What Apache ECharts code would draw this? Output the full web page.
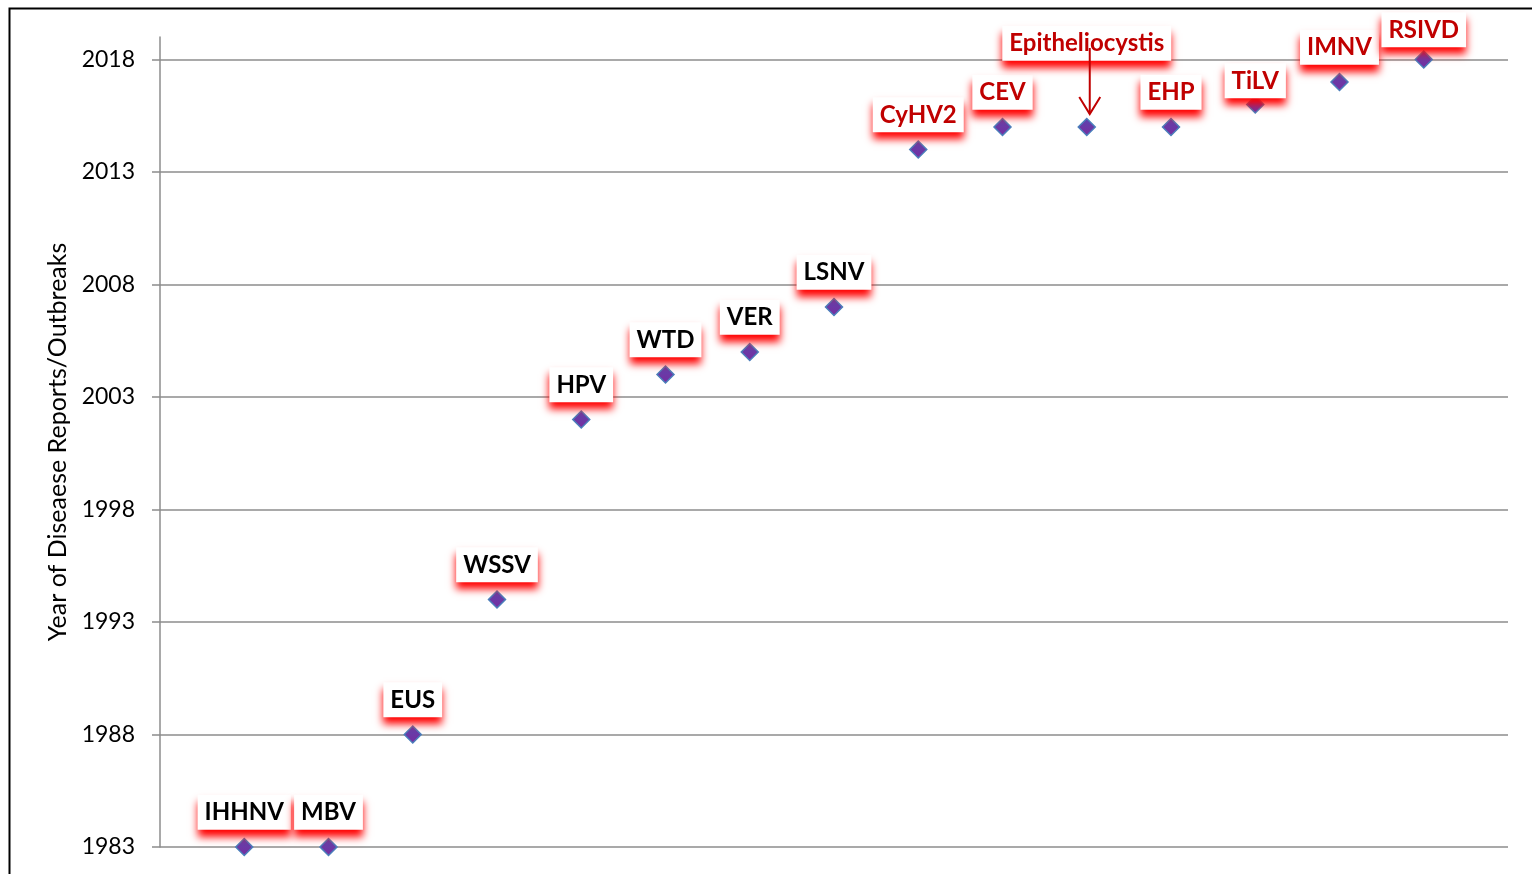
<!DOCTYPE html>
<html>
<head>
<meta charset="utf-8">
<title>Year of Disease Reports/Outbreaks</title>
<script src="https://cdn.jsdelivr.net/npm/echarts@6/dist/echarts.min.js"></script>
<style>
  html, body { margin: 0; padding: 0; background: #fff; }
  #chart { width: 1532px; height: 874px; }
</style>
</head>
<body>
<div id="chart"></div>
<script>
// Pathogens in order of first report, with the year of report/outbreak
const diseases = ['IHHNV', 'MBV', 'EUS', 'WSSV', 'HPV', 'WTD', 'VER', 'LSNV',
  'CyHV2', 'CEV', 'Epitheliocystis', 'EHP', 'TiLV', 'IMNV', 'RSIVD'];
const reportYears = [1983, 1983, 1988, 1994, 2002, 2004, 2005, 2007,
  2014, 2015, 2015, 2015, 2016, 2017, 2018];
const yearTicks = [1983, 1988, 1993, 1998, 2003, 2008, 2013, 2018];

// Reports from this year on are highlighted in red
const RECENT_FROM = 2014;
// Label pointed at with an arrow (it sits well above its point)
const ARROWED = 'Epitheliocystis';
// Vertical nudges (px) for labels that are moved off their default spot
const labelNudge = { Epitheliocystis: -49, TiLV: 11, RSIVD: 5 };

const FONT = 'Lato, "Open Sans", sans-serif';
const DARK_RED = '#C00000';
const GRID_GREY = '#8c8c8c';

const points = diseases.map((name, i) => {
  const recent = reportYears[i] >= RECENT_FROM;
  const item = {
    name: name,
    value: [i + 1, reportYears[i]],
    label: { color: recent ? DARK_RED : '#000' }
  };
  if (labelNudge[name]) item.label.offset = [0, labelNudge[name]];
  return item;
});

const arrowData = diseases
  .map((name, i) => [i + 1, reportYears[i], name])
  .filter(d => d[2] === ARROWED);

const chart = echarts.init(document.getElementById('chart'), null, { renderer: 'canvas' });

chart.setOption({
  backgroundColor: '#fff',
  animation: false,
  grid: { left: 160, right: 24, top: 37, bottom: 27, containLabel: false },
  xAxis: { type: 'value', min: 0, max: diseases.length + 1, show: false },
  yAxis: {
    type: 'value',
    min: yearTicks[0],
    max: yearTicks[yearTicks.length - 1] + 1,
    interval: 5,
    name: 'Year of Diseaese Reports/Outbreaks',
    nameLocation: 'middle',
    nameRotate: 90,
    nameGap: 84,
    nameTextStyle: { fontFamily: FONT, fontSize: 25, color: '#000' },
    axisLine: { show: true, lineStyle: { color: GRID_GREY, width: 1.5 } },
    axisTick: { show: true, length: 8, customValues: yearTicks,
      lineStyle: { color: GRID_GREY, width: 1.5 } },
    axisLabel: { customValues: yearTicks, margin: 25,
      formatter: v => String(v),
      fontFamily: FONT, fontSize: 23, color: '#000' },
    splitLine: { show: true, lineStyle: { color: GRID_GREY, width: 1.5 } }
  },
  series: [
    {
      type: 'scatter',
      symbol: 'diamond',
      symbolSize: 17,
      z: 3,
      itemStyle: {
        opacity: 1,
        color: new echarts.graphic.LinearGradient(0, 0, 0, 1, [
          { offset: 0, color: '#5a45b0' },
          { offset: 1, color: '#7a2c9e' }
        ]),
        borderColor: '#4a7ebb',
        borderWidth: 1.5
      },
      label: {
        show: true,
        opacity: 1,
        position: 'top',
        distance: 8,
        formatter: '{b}',
        fontFamily: FONT,
        fontWeight: 'bold',
        fontSize: 24,
        lineHeight: 26,
        backgroundColor: '#fff',
        padding: [5, 7, 4, 7],
        shadowColor: '#ff0000',
        shadowBlur: 8,
        shadowOffsetY: 7
      },
      emphasis: { disabled: true },
      data: points
    },
    {
      // Arrow from the raised label down to its point
      type: 'custom',
      z: 10,
      silent: true,
      data: arrowData,
      renderItem: function (params, api) {
        const p = api.coord([api.value(0), api.value(1)]);
        const x = p[0] + 3;
        const top = p[1] - 79;
        const tip = p[1] - 13;
        const style = { stroke: DARK_RED, lineWidth: 2, fill: null };
        return {
          type: 'group',
          children: [
            { type: 'line', shape: { x1: x, y1: top, x2: x, y2: tip }, style: style },
            { type: 'polyline', shape: { points: [[x - 10.5, tip - 17], [x, tip], [x + 10.5, tip - 17]] }, style: style }
          ]
        };
      }
    }
  ],
  graphic: [
    {
      type: 'rect',
      left: 7, top: 6,
      shape: { width: 1600, height: 1000 },
      style: { fill: null, stroke: '#000', lineWidth: 2 },
      silent: true
    }
  ]
});
</script>
</body>
</html>
